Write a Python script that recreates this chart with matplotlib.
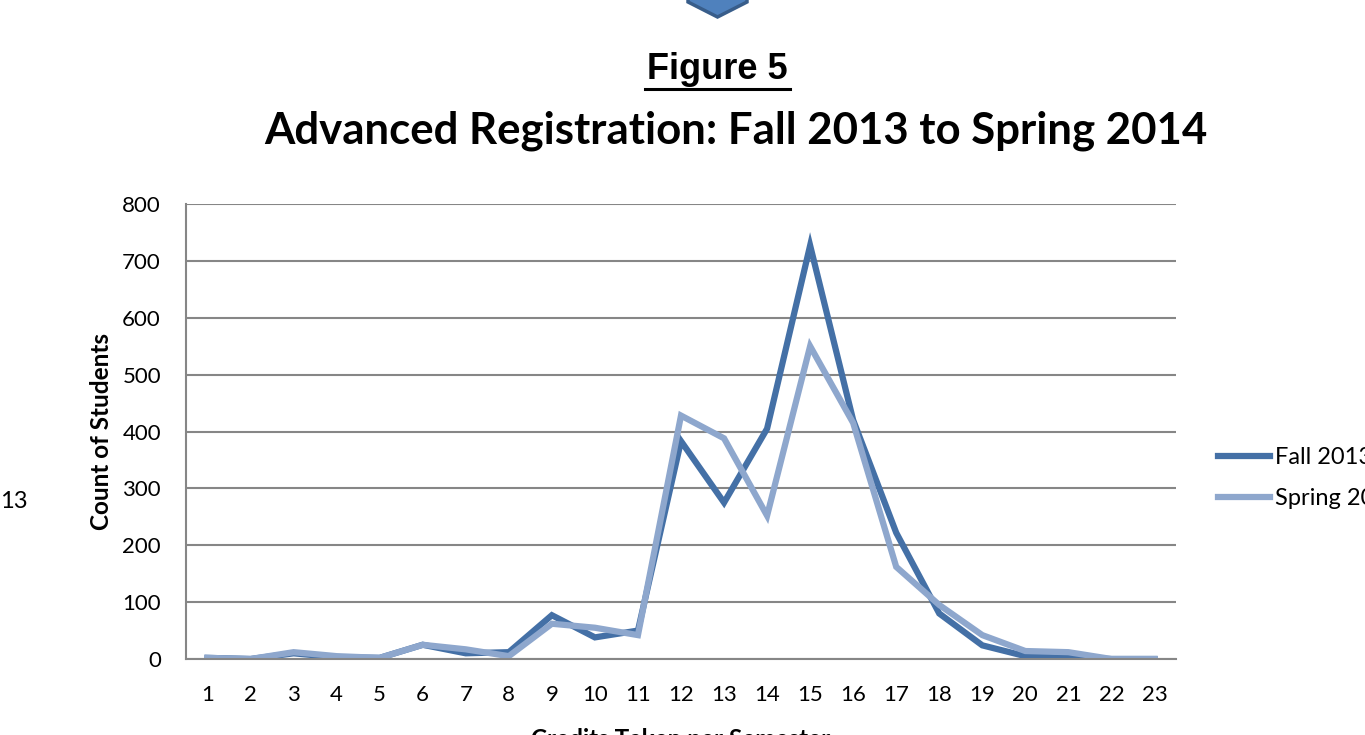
import matplotlib.pyplot as plt
from matplotlib.patches import Polygon

credits = list(range(1, 24))
fall_2013 = [2, 0, 10, 3, 2, 25, 10, 12, 77, 38, 50, 383, 275, 405, 727, 420, 222, 80, 24, 5, 2, 0, 0]
spring_2014 = [2, 0, 12, 5, 2, 25, 17, 5, 62, 55, 42, 428, 388, 252, 550, 415, 162, 95, 42, 14, 12, 0, 0]
y_ticks = [0, 100, 200, 300, 400, 500, 600, 700, 800]

W, H = 1365, 735
fig = plt.figure(figsize=(W / 100, H / 100), dpi=100)
ax = fig.add_axes([186 / W, (H - 659) / H, (1176 - 186) / W, (659 - 204) / H])

fall_col = "#4470A6"
spring_col = "#8EA7CD"
grid_col = "#868686"
font = ["Lato", "DejaVu Sans"]

ax.plot(credits, fall_2013, color=fall_col, lw=4.5, solid_joinstyle="miter", label="Fall 2013")
ax.plot(credits, spring_2014, color=spring_col, lw=4.5, solid_joinstyle="miter", label="Spring 2014")

ax.set_xlim(0.5, 23.5)
ax.set_ylim(0, 800)
ax.set_yticks(y_ticks)
ax.set_xticks(credits)
ax.set_yticklabels([str(v) for v in y_ticks], family=font, fontsize=16)
ax.set_xticklabels([str(c) for c in credits], family=font, fontsize=16)
ax.tick_params(axis="y", length=0, pad=18)
ax.tick_params(axis="x", length=0, pad=19)
ax.grid(axis="y", color=grid_col, lw=1.5)
ax.set_axisbelow(True)
for s in ["top", "right"]:
    ax.spines[s].set_visible(False)
for s in ["left", "bottom"]:
    ax.spines[s].set_color(grid_col)
    ax.spines[s].set_linewidth(1.5)

ax.set_ylabel("Count of Students", family=font, fontsize=17.5, fontweight="bold", labelpad=7)
ax.set_xlabel("Credits Taken per Semester", family=font, fontsize=17.5, fontweight="bold", labelpad=16)

ax.legend(loc="center left", bbox_to_anchor=(1218 / W, 1 - 478 / H), bbox_transform=fig.transFigure,
          frameon=False, borderaxespad=0, borderpad=0,
          prop={"family": font, "size": 17}, handlelength=2.2, handletextpad=0.2,
          labelspacing=0.85)

fig.text(717 / W, 1 - 79 / H, "Figure 5", ha="center", va="baseline",
         family=["Liberation Sans", "DejaVu Sans"], fontsize=26, fontweight="bold")
fig.add_artist(plt.Line2D([645 / W, 790 / W], [1 - 89 / H, 1 - 89 / H], color="black", lw=2.2))
fig.text(736 / W, 1 - 131 / H, "Advanced Registration: Fall 2013 to Spring 2014", ha="center",
         va="center", family=font, fontsize=31.5, fontweight="bold")
fig.text(0, 1 - 502 / H, "13", ha="left", va="center", family=font, fontsize=17)

arrow = Polygon([[688 / W, 1.02], [747 / W, 1.02], [747 / W, 1 - 2 / H], [717.5 / W, 1 - 17 / H],
                 [688 / W, 1 - 2 / H]], closed=True, transform=fig.transFigure,
                facecolor="#4F81BD", edgecolor="#385D8A", lw=2.5)
fig.add_artist(arrow)

fig.savefig("out.png", dpi=100)
